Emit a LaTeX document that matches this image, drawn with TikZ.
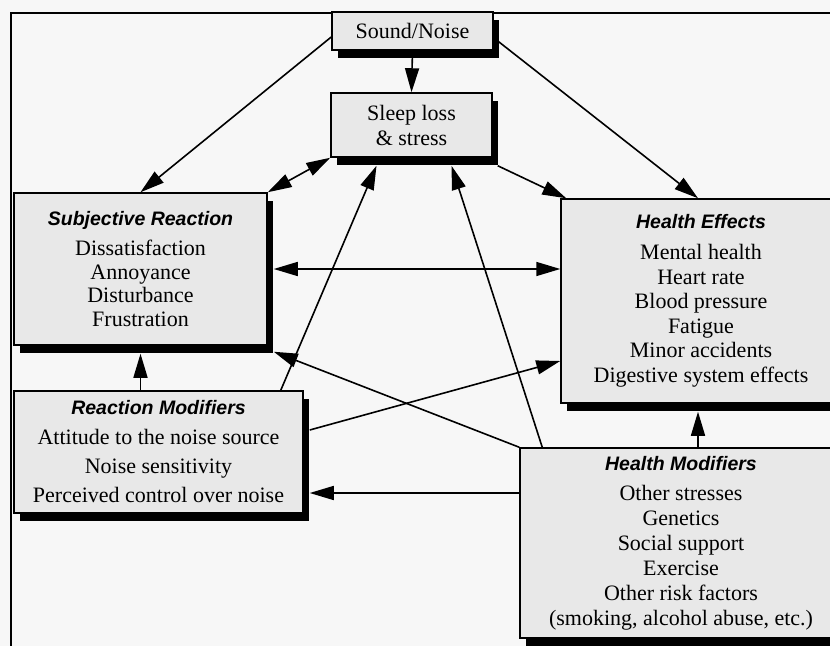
\documentclass[tikz,border=0pt]{standalone}
\usepackage{fontspec}
\setmainfont{Liberation Serif}
\newfontfamily\headfont{Liberation Sans}
\usetikzlibrary{arrows.meta,shadows,positioning}
\tikzset{factor/.style={rectangle,draw,line width=1.5bp,fill=black!9,inner sep=0pt,align=center,
                        drop shadow={shadow xshift=6bp,shadow yshift=-8bp,fill=black,opacity=1}},
         link/.style={line width=1.6bp}
}
\newcommand{\head}[1]{{\headfont\fontsize{19.5bp}{20bp}\selectfont\bfseries\itshape #1}}

\begin{document}
\begin{tikzpicture}[x=1bp,y=-1bp,>={Triangle[length=24bp,width=14bp]}]
\clip (0,0) rectangle (830,646);
\fill[black!3] (0,0) rectangle (830,646);
\draw[line width=2bp] (11,646) -- (11,13) -- (830,13);
\node[factor,minimum width=161bp,minimum height=38bp,font=\fontsize{22bp}{25bp}\selectfont] (noise) at (412.5,31) {Sound/Noise};
\node[factor,minimum width=161bp,minimum height=64bp,font=\fontsize{22bp}{25bp}\selectfont] (sleep) at (411.5,125) {Sleep loss\\ \& stress};
\node[factor,minimum width=253bp,minimum height=152bp,font=\fontsize{22bp}{23.5bp}\selectfont] (subj) at (140.5,269)
  {\head{Subjective Reaction}\\[6.5bp] Dissatisfaction\\ Annoyance\\ Disturbance\\ Frustration};
\node[factor,minimum width=280bp,minimum height=204bp,font=\fontsize{22bp}{24.5bp}\selectfont] (heff) at (701,301)
  {\head{Health Effects}\\[6.5bp] Mental health\\ Heart rate\\ Blood pressure\\ Fatigue\\ Minor accidents\\ Digestive system effects};
\node[factor,minimum width=289bp,minimum height=122bp,font=\fontsize{22bp}{29bp}\selectfont] (rmod) at (158.5,452)
  {\head{Reaction Modifiers}\\[1bp] Attitude to the noise source\\ Noise sensitivity\\ Perceived control over noise};
\node[factor,minimum width=322bp,minimum height=190bp,font=\fontsize{22bp}{25bp}\selectfont] (hmod) at (681,543)
  {\head{Health Modifiers}\\[5bp] Other stresses\\ Genetics\\ Social support\\ Exercise\\ Other risk factors\\ (smoking, alcohol abuse, etc.)};
\draw[link,->] ([yshift=-6bp]noise.west) -- (subj.north);
\draw[link,->] ([xshift=4bp,yshift=-10bp]noise.east) -- ([xshift=-3bp]heff.north);
\draw[link,->] (noise.south) -- (sleep.north);
\draw[link,<->] (sleep.south west) -- (subj.north east);
\draw[link,->] ([xshift=5bp,yshift=-8bp]sleep.south east) -- ([xshift=6bp]heff.north west);
\draw[link,<->,shorten <=6bp] (subj.east) -- (subj.east -| heff.west);
\draw[link,->,shorten >=8bp] (rmod.north -| subj.south) -- (subj.south);
\draw[link,->] ([xshift=-23bp]rmod.north east) -- ([xshift=-35bp,yshift=-8bp]sleep.south);
\draw[link,->] ([xshift=6bp,yshift=22bp]rmod.east) -- ([yshift=-60bp]heff.west);
\draw[link,->] (hmod.north west) -- ([xshift=6bp,yshift=-6bp]subj.south east);
\draw[link,->] ([xshift=23bp]hmod.north west) -- ([xshift=40bp,yshift=-8bp]sleep.south);
\draw[link,->,shorten >=6bp] ([yshift=50bp]hmod.west) -- ([yshift=50bp]hmod.west -| rmod.east);
\draw[link,->,shorten >=8bp] ([xshift=17bp]hmod.north) -- ([xshift=-3bp]heff.south);
\end{tikzpicture}
\end{document}
